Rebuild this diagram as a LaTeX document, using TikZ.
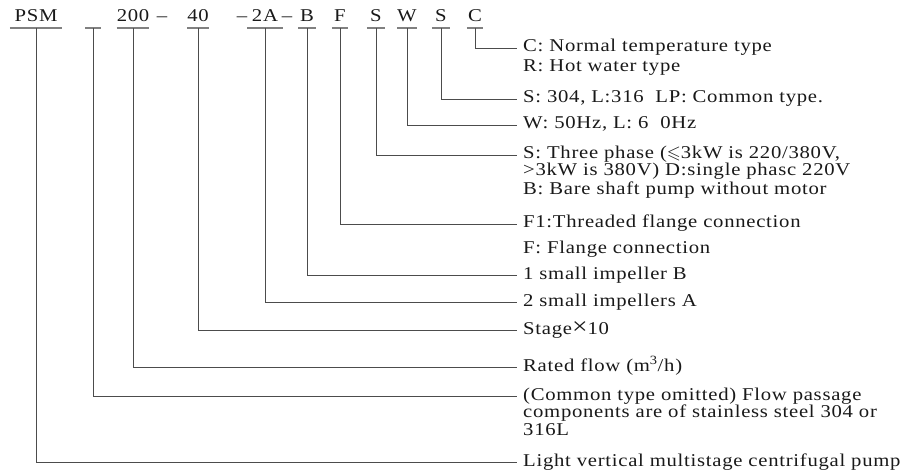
\documentclass[tikz,border=0pt]{standalone}
\usepackage{amssymb}
\usepackage{fontspec}
\setmainfont{Liberation Serif}[FakeStretch=1.15,LetterSpace=4]
\begin{document}
\begin{tikzpicture}[x=1pt,y=-1pt,
    every node/.style={font=\fontsize{18pt}{17pt}\selectfont, text=black!90},
    code/.style={anchor=south, inner sep=0pt, text height=13pt, text depth=6pt},
    desc/.style={anchor=west, inner xsep=6pt, inner ysep=0pt, text height=11pt, text depth=3pt}]
  \useasboundingbox (0,0) rectangle (911,476);
  % model code
  \path
    (36,28) node[code, minimum width=52] (psm){PSM}
    (93,28) node[code, minimum width=15] (mat){}
    (133,28) node[code, minimum width=32] (flow){200}
    (198,28) node[code, minimum width=17] (stage){40}
    (265,28) node[code, minimum width=35] (imp2){2A}
    (307,28) node[code, minimum width=17] (imp1){B}
    (340,28) node[code, minimum width=16] (flange){F}
    (376,28) node[code, minimum width=18] (volt){S}
    (407,28) node[code, minimum width=19] (freq){W}
    (441,28) node[code, minimum width=18] (metal){S}
    (475,28) node[code, minimum width=16] (temp){C}
    (162,28) node[code] (dash1){--}
    (242,28) node[code] (dash2){--}
    (287,28) node[code] (dash3){--};
  % meanings
  \path
    (517,48) node[desc] (ttemp){C: Normal temperature type}
    (517,68) node[desc] (ttemp2){R: Hot water type}
    (517,99) node[desc] (tmetal){S: 304, L:316~~LP: Common type.}
    (517,125) node[desc] (tfreq){W: 50Hz, L: 6~~0Hz}
    (517,155) node[desc] (tvolt){S: Three phase ($\leqslant$3kW is 220/380V,}
    (517,172) node[desc] (tvolt2){>3kW is 380V) D:single phasc 220V}
    (517,190) node[desc] (tvolt3){B: Bare shaft pump without motor}
    (517,224) node[desc] (tflange){F1:Threaded flange connection}
    (517,250) node[desc] (tflange2){F: Flange connection}
    (517,275) node[desc] (timp1){1 small impeller B}
    (517,302) node[desc] (timp2){2 small impellers A}
    (517,330) node[desc] (tstage){Stage{\fontsize{24pt}{17pt}\selectfont ×}10}
    (517,367) node[desc] (tflow){Rated flow (m\textsuperscript{3}/h)}
    (517,396) node[desc] (tmat){(Common type omitted) Flow passage}
    (517,413) node[desc] (tmat2){components are of stainless steel 304 or}
    (517,431) node[desc] (tmat3){316L}
    (517,462) node[desc] (tpsm){Light vertical multistage centrifugal pump};
  \begin{scope}[gray, line width=1.6pt]
    \draw (psm.south west) to (psm.south east);
    \draw (mat.south west) to (mat.south east);
    \draw (flow.south west) to (flow.south east);
    \draw (stage.south west) to (stage.south east);
    \draw (imp2.south west) to (imp2.south east);
    \draw (imp1.south west) to (imp1.south east);
    \draw (flange.south west) to (flange.south east);
    \draw (volt.south west) to (volt.south east);
    \draw (freq.south west) to (freq.south east);
    \draw (metal.south west) to (metal.south east);
    \draw (temp.south west) to (temp.south east);
  \end{scope}
  \begin{scope}[black!70, line width=0.9pt]
    \draw (psm.south) |- (tpsm.west);
    \draw (mat.south) |- (tmat.west);
    \draw (flow.south) |- (tflow.west);
    \draw (stage.south) |- (tstage.west);
    \draw (imp2.south) |- (timp2.west);
    \draw (imp1.south) |- (timp1.west);
    \draw (flange.south) |- (tflange.west);
    \draw (volt.south) |- (tvolt.west);
    \draw (freq.south) |- (tfreq.west);
    \draw (metal.south) |- (tmetal.west);
    \draw (temp.south) |- (ttemp.west);
  \end{scope}
\end{tikzpicture}
\end{document}
